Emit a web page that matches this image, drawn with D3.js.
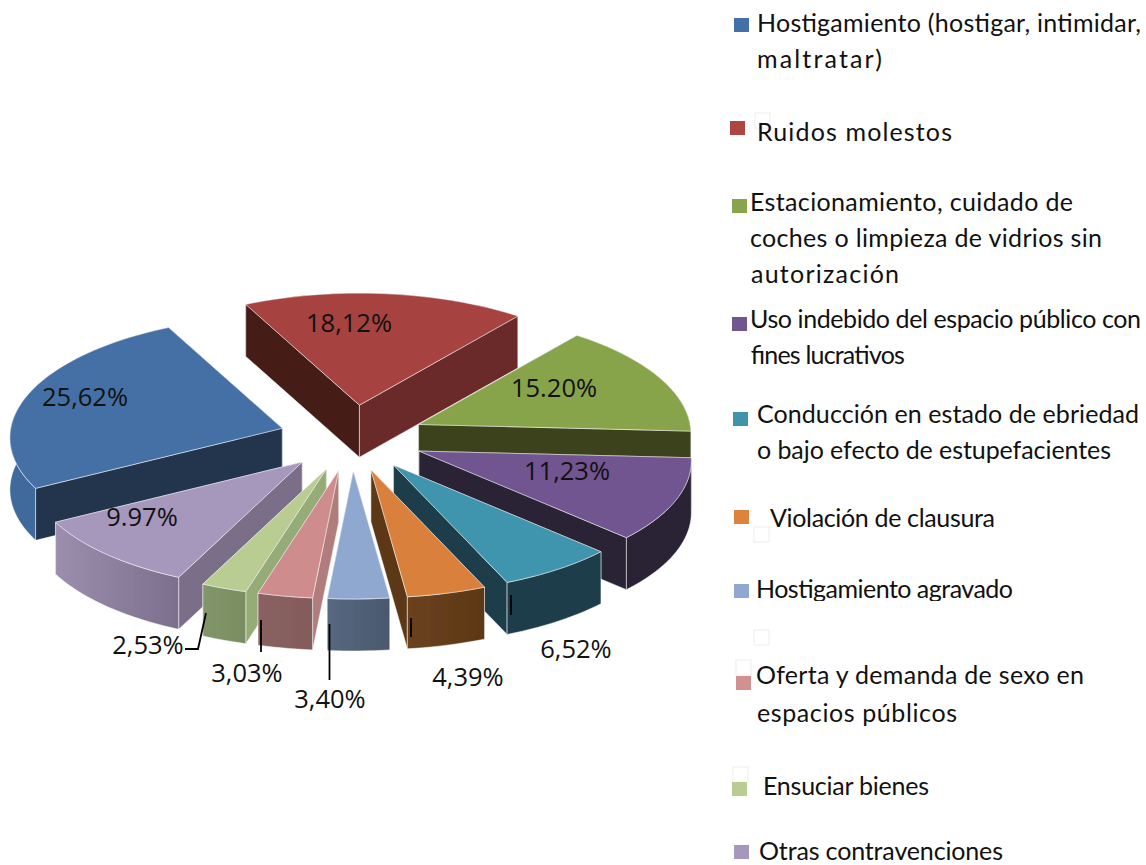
<!DOCTYPE html>
<html>
<head>
<meta charset="utf-8">
<script src="https://cdn.jsdelivr.net/npm/d3@7"></script>
<style>html,body{margin:0;padding:0;background:#fff}svg{display:block}</style>
</head>
<body>
<svg id="chart" width="1146" height="865"></svg>
<script>
// ---- data ----
const categories = ["Hostigamiento","Ruidos molestos","Estacionamiento","Uso indebido","Conducción","Violación de clausura","Hostigamiento agravado","Oferta y demanda","Ensuciar bienes","Otras contravenciones"];
const values = [25.62,18.12,15.20,11.23,6.52,4.39,3.40,3.03,2.53,9.97];
const valueLabels = ["25,62%","18,12%","15.20%","11,23%","6,52%","4,39%","3,40%","3,03%","2,53%","9.97%"];

// ---- palette ----
const topColors    = ["#4470A6","#A64340","#88A44C","#715590","#4095AE","#D9803C","#8FA8D0","#CE8D8C","#B9CD92","#A697BC"];
const startWalls   = ["#20344E","#451A17","#3A421C","#2A2036","#1B3D49","#5C3714","#4D5E75","#B07D7C","#95AC78","#7A6E88"];
const endWalls     = ["#20344E","#6B2B29","#3A421C","#2A2036","#1B3D49","#5C3714","#4D5E75","#875F5F","#7E9166","#7A6E88"];
const outerLeft    = ["#3F6A9B","#6B2B29","#3A421C","#2A2036","#1B3D49","#6B421F","#566880","#8A6262","#829669","#9C8EAC"];
const outerRight   = ["#3F6A9B","#6B2B29","#3A421C","#2A2036","#1B3D49","#5C3714","#4A596E","#835B5B","#7A8D62","#7C6F8E"];

// ---- label placement ----
const labelX = [85,349,554,567,576,468,330,247,148,142];
const labelY = [406,332,397,480,658,686,708,682,654,526];
const leaders = [
  [[206,613],[198,649],[185,649]],
  [[261,620],[261,652]],
  [[329.5,624],[329.5,680]],
  [[411,618],[411,637]],
  [[511,595],[511,615]]
];

// ---- legend ----
const legendColors = ["#4470A6","#AD4643","#88A44C","#715590","#3F93AD","#DD843C","#8FA8D0","#D19190","#B9CD92","#A697BC"];
const legendSwatchX = [734,730,732,732,733,734,734,736,732,734];
const legendSwatchY = [18,121,199,317,412,510,584,676,782,845];
const legendLines = [
  ["Hostigamiento (hostigar, intimidar,",757,32,1141],
  ["maltratar)",757,68,882],
  ["Ruidos molestos",757,141,952],
  ["Estacionamiento, cuidado de",750,211,1073],
  ["coches o limpieza de vidrios sin",750,247,1102],
  ["autorización",751,283,899],
  ["Uso indebido del espacio público con",750,328,1141],
  ["fines lucrativos",750,364,904],
  ["Conducción en estado de ebriedad",757,423,1139],
  ["o bajo efecto de estupefacientes",757,459,1111],
  ["Violación de clausura",770,527,995],
  ["Hostigamiento agravado",756,598,1013],
  ["Oferta y demanda de sexo en",756,684,1084],
  ["espacios públicos",757,722,957],
  ["Ensuciar bienes",763,795,929],
  ["Otras contravenciones",759,860,1003]
];
const ghostBoxes = [[754,527],[754,630],[736,660],[733,767],[755,113]];

// ---- geometry ----
const center = {x:352, y:438};
const explode = {x:73, y:33};
const depth = 52;
const startAngle = 241 * Math.PI / 180;
const rx = d3.scaleLinear().domain([-1,1]).range([250,293]);
const ry = d3.scaleLinear().domain([-1,1]).range([112,128]);

const svg = d3.select("#chart");
const defs = svg.append("defs");
defs.append("filter").attr("id","soft").attr("x","-5%").attr("y","-5%").attr("width","110%").attr("height","110%")
  .append("feGaussianBlur").attr("stdDeviation",0.7);

const pie = d3.pie().sort(null).startAngle(startAngle).endAngle(startAngle + 2*Math.PI);
const slices = pie(values).map((d,i)=>{
  const mid = (d.startAngle+d.endAngle)/2;
  return {...d, i, mid,
    apex:{x:center.x+explode.x*Math.sin(mid), y:center.y-explode.y*Math.cos(mid)}};
});
function project(s,a){
  const u=Math.sin(a), v=-Math.cos(a);
  return [s.apex.x+rx(v)*u, s.apex.y+ry(v)*v];
}
const line = d3.line();
const down = p=>[p[0],p[1]+depth];
const edgeStroke = "rgba(255,255,255,0.5)";

const pieG = svg.append("g").attr("filter","url(#soft)");
slices.sort((a,b)=>d3.descending(Math.cos(a.mid),Math.cos(b.mid)));

slices.forEach(s=>{
  const g = pieG.append("g");
  const apexPt=[s.apex.x,s.apex.y];
  const n = Math.max(4,Math.ceil((s.endAngle-s.startAngle)/0.03));
  const arcPts = d3.range(n+1).map(k=>project(s,s.startAngle+(s.endAngle-s.startAngle)*k/n));
  const a0=arcPts[0], a1=arcPts[n];

  const gradId="outer"+s.i;
  const gr=defs.append("linearGradient").attr("id",gradId);
  gr.append("stop").attr("offset","0%").attr("stop-color",outerLeft[s.i]);
  gr.append("stop").attr("offset","100%").attr("stop-color",outerRight[s.i]);

  const walls=[
    {pts:[apexPt,a0,down(a0),down(apexPt)],fill:startWalls[s.i]},
    {pts:[apexPt,a1,down(a1),down(apexPt)],fill:endWalls[s.i]},
    {pts:arcPts.concat(arcPts.map(down).reverse()),fill:`url(#${gradId})`}
  ];
  walls.forEach(w=>w.my=d3.mean(w.pts,p=>p[1]));
  walls.sort((a,b)=>d3.ascending(a.my,b.my));
  walls.forEach(w=>{
    g.append("path").attr("d",line(w.pts)+"Z").attr("fill",w.fill)
      .attr("stroke",edgeStroke).attr("stroke-width",1);
  });
  g.append("path").attr("d",line([apexPt,...arcPts])+"Z")
    .attr("fill",topColors[s.i]).attr("stroke",edgeStroke).attr("stroke-width",1).attr("stroke-linejoin","round");
});

// leader lines
svg.append("g").selectAll("path").data(leaders).join("path")
  .attr("d",d=>line(d)).attr("fill","none").attr("stroke","#000").attr("stroke-width",1.8);

// value labels
svg.append("g").selectAll("text").data(valueLabels).join("text")
  .attr("x",(d,i)=>labelX[i]).attr("y",(d,i)=>labelY[i])
  .attr("text-anchor","middle")
  .attr("font-family","'Open Sans',sans-serif").attr("font-size",25.5).attr("fill","#111")
  .text(d=>d);

// legend
const lg = svg.append("g");
lg.selectAll("rect.ghost").data(ghostBoxes).join("rect").attr("class","ghost")
  .attr("x",d=>d[0]).attr("y",d=>d[1]).attr("width",15).attr("height",15)
  .attr("fill","none").attr("stroke","#f3f3f3").attr("stroke-width",1.5);
lg.selectAll("rect.sw").data(legendColors).join("rect").attr("class","sw")
  .attr("x",(d,i)=>legendSwatchX[i]).attr("y",(d,i)=>legendSwatchY[i])
  .attr("width",15).attr("height",14).attr("fill",d=>d);
lg.selectAll("text").data(legendLines).join("text")
  .attr("x",d=>d[1]).attr("y",d=>d[2])
  .attr("textLength",d=>d[3]-d[1]).attr("lengthAdjust","spacing")
  .attr("font-family","Lato,'Open Sans',sans-serif").attr("font-size",25).attr("fill","#111")
  .text(d=>d[0]);
// the reference crops the descenders of this line
lg.append("rect").attr("x",750).attr("y",601).attr("width",280).attr("height",12).attr("fill","#fff");
</script>
</body>
</html>
